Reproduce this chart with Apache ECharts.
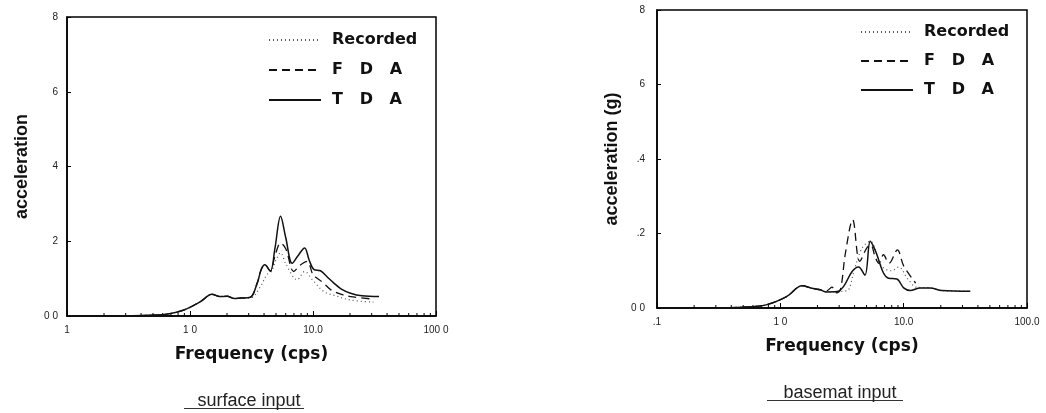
<!DOCTYPE html>
<html>
<head>
    <meta charset="utf-8">
    <title>acceleration spectra</title>
    <script src="https://cdn.jsdelivr.net/npm/echarts@6.0.0/dist/echarts.min.js"></script>
    <style>
        body { margin: 0; padding: 0; background: #fff; overflow: hidden; }
        #chart { width: 1046px; height: 413px; }
    </style>
</head>
<body>
    <div id="chart"></div>

    <script>
        // surface input: [frequency (cps), acceleration]
        const surfaceRecorded = [
            [0.3, 0], [0.45, 0.002], [0.65, 0.005], [0.89, 0.016], [1.21, 0.038], [1.51, 0.058],
            [1.75, 0.052], [2.0, 0.053], [2.3, 0.047], [2.57, 0.048], [3.09, 0.048], [3.74, 0.079],
            [4.2, 0.11], [4.6, 0.12], [5.0, 0.15], [5.45, 0.169], [6.0, 0.14], [7.45, 0.097],
            [8.55, 0.119], [10.0, 0.095], [12.3, 0.065], [15.0, 0.055], [20.0, 0.043], [31.0, 0.037]
        ];
        const surfaceFDA = [
            [0.3, 0], [0.45, 0.002], [0.65, 0.005], [0.89, 0.016], [1.21, 0.038], [1.51, 0.058],
            [1.75, 0.052], [2.0, 0.053], [2.3, 0.047], [2.57, 0.048], [3.09, 0.05], [3.52, 0.088],
            [3.8, 0.125], [4.06, 0.137], [4.5, 0.12], [4.9, 0.16], [5.45, 0.195], [6.0, 0.18],
            [6.98, 0.119], [7.8, 0.135], [8.97, 0.146], [10.0, 0.11], [10.8, 0.101], [12.0, 0.09],
            [14.0, 0.07], [17.0, 0.058], [20.2, 0.052], [31.2, 0.045]
        ];
        const surfaceTDA = [
            [0.3, 0], [0.45, 0.002], [0.65, 0.005], [0.89, 0.016], [1.21, 0.038], [1.51, 0.058],
            [1.75, 0.052], [2.0, 0.053], [2.3, 0.047], [2.57, 0.048], [3.09, 0.05], [3.52, 0.088],
            [3.8, 0.125], [4.06, 0.137], [4.5, 0.12], [4.9, 0.18], [5.45, 0.267], [6.0, 0.21],
            [6.78, 0.141], [7.5, 0.16], [8.55, 0.182], [9.3, 0.15], [10.2, 0.124], [11.5, 0.121],
            [13.0, 0.105], [14.8, 0.088], [17.0, 0.072], [20.2, 0.061], [25.0, 0.054], [34.4, 0.052]
        ];

        // basemat input
        const basematRecorded = [
            [0.3, 0], [0.54, 0.003], [0.78, 0.009], [1.13, 0.031], [1.5, 0.06], [1.8, 0.053],
            [2.11, 0.049], [2.37, 0.043], [2.88, 0.044], [3.26, 0.045], [3.58, 0.049], [3.94, 0.097],
            [4.6, 0.161], [5.35, 0.179], [6.6, 0.113], [8.0, 0.1], [9.1, 0.11], [10.9, 0.076],
            [12.7, 0.056], [16.4, 0.054], [20.3, 0.047], [34.7, 0.045]
        ];
        const basematFDA = [
            [0.3, 0], [0.54, 0.003], [0.78, 0.009], [1.13, 0.031], [1.5, 0.06], [1.8, 0.053],
            [2.11, 0.049], [2.37, 0.046], [2.62, 0.056], [2.85, 0.041], [3.07, 0.049], [3.37, 0.147],
            [3.86, 0.237], [4.4, 0.125], [5.0, 0.16], [5.4, 0.17], [5.9, 0.135], [6.3, 0.12],
            [6.86, 0.143], [7.6, 0.12], [8.9, 0.156], [10.0, 0.113], [12.5, 0.067]
        ];
        const basematTDA = [
            [0.3, 0], [0.54, 0.003], [0.78, 0.009], [1.13, 0.031], [1.5, 0.06], [1.8, 0.053],
            [2.1, 0.049], [2.37, 0.043], [2.88, 0.044], [3.26, 0.058], [3.82, 0.098], [4.31, 0.11],
            [4.85, 0.088], [5.35, 0.179], [5.7, 0.165], [6.07, 0.143], [6.86, 0.094], [7.54, 0.08],
            [8.8, 0.078], [10.0, 0.054], [11.3, 0.047], [13.6, 0.054], [16.4, 0.054], [20.3, 0.047],
            [34.7, 0.045]
        ];

        // axis tick labels, as printed
        const surfaceXLabels = ['1', '1 0', '10.0', '100 0'];
        const basematXLabels = ['.1', '1 0', '10.0', '100.0'];
        const surfaceYLabels = ['0 0', '2', '4', '6', '8'];
        const basematYLabels = ['0 0', '.2', '.4', '6', '8'];
        const minorFreqs = [0.2, 0.3, 0.4, 0.5, 0.6, 0.7, 0.8, 0.9, 2, 3, 4, 5, 6, 7, 8, 9,
            20, 30, 40, 50, 60, 70, 80, 90];

        const seriesNames = ['Recorded', 'F   D   A', 'T   D   A'];

        const chart = echarts.init(document.getElementById('chart'));

        const bold = 'DejaVu Sans';

        function xAxisFor(gridIndex, labels) {
            return {
                type: 'log', gridIndex: gridIndex, logBase: 10, min: 0.1, max: 100,
                name: 'Frequency (cps)', nameLocation: 'middle', nameGap: 30,
                nameTextStyle: { fontFamily: bold, fontWeight: 'bold', fontSize: 17, color: '#111' },
                axisLine: { lineStyle: { color: '#000', width: 1.5 } },
                axisTick: { inside: true, length: 5, lineStyle: { color: '#000' } },
                axisLabel: {
                    margin: 9, fontSize: 10, color: '#222', fontFamily: 'Liberation Sans',
                    formatter: (v, i) => labels[i]
                },
                splitLine: { show: false }
            };
        }

        function yAxisFor(gridIndex, labels, name, margin) {
            return {
                type: 'value', gridIndex: gridIndex, min: 0, max: 0.8, interval: 0.2,
                name: name, nameLocation: 'middle', nameGap: 36, nameRotate: 90,
                nameTextStyle: { fontFamily: 'Liberation Sans', fontWeight: 'bold', fontSize: 18, color: '#111' },
                axisLine: { lineStyle: { color: '#000', width: 1.5 } },
                axisTick: { inside: true, length: 4, lineStyle: { color: '#000' } },
                axisLabel: {
                    margin: margin, fontSize: 10, color: '#222', fontFamily: 'Liberation Sans',
                    formatter: (v, i) => labels[i]
                },
                splitLine: { show: false }
            };
        }

        function lineSeries(idx, name, data, style) {
            return {
                type: 'line', name: name, xAxisIndex: idx, yAxisIndex: idx,
                data: data, symbol: 'none', smooth: 0.35,
                lineStyle: style, itemStyle: { color: style.color }
            };
        }

        const styles = [
            { color: '#555', width: 1.2, type: [1, 3] },
            { color: '#111', width: 1.3, type: [8, 5] },
            { color: '#111', width: 1.5, type: 'solid' }
        ];

        function minorTickSeries(idx) {
            return {
                type: 'custom', xAxisIndex: idx, yAxisIndex: idx, silent: true,
                data: minorFreqs.map(f => [f, 0]),
                renderItem: function (params, api) {
                    const p = api.coord([api.value(0), api.value(1)]);
                    return {
                        type: 'line',
                        shape: { x1: p[0], y1: p[1], x2: p[0], y2: p[1] - 3 },
                        style: { stroke: '#000', lineWidth: 1 }
                    };
                }
            };
        }

        function legendFor(left, top, gap) {
            return {
                orient: 'vertical', left: left, top: top, itemGap: gap,
                itemWidth: 52, itemHeight: 14, data: seriesNames,
                selectedMode: false,
                itemStyle: { opacity: 0 },
                textStyle: {
                    fontFamily: bold, fontWeight: 'bold', fontSize: 16, color: '#111',
                    padding: [0, 0, 0, 6]
                }
            };
        }

        const captionStyle = { fontFamily: 'Liberation Sans', fontWeight: 'normal', fontSize: 18, color: '#222' };

        const option = {
            animation: false,
            backgroundColor: '#fff',
            title: [
                { text: 'surface input', left: 244, top: 387, textAlign: 'center', textStyle: captionStyle },
                { text: 'basemat input', left: 835, top: 379, textAlign: 'center', textStyle: captionStyle }
            ],
            legend: [legendFor(263, 27, 14), legendFor(855, 19, 13)],
            grid: [
                { left: 67, right: 610, top: 17, bottom: 97, show: true, borderColor: '#000', borderWidth: 1.5 },
                { left: 657, right: 19, top: 10, bottom: 105, show: true, borderColor: '#000', borderWidth: 1.5 }
            ],
            xAxis: [xAxisFor(0, surfaceXLabels), xAxisFor(1, basematXLabels)],
            yAxis: [
                yAxisFor(0, surfaceYLabels, 'acceleration', 9),
                yAxisFor(1, basematYLabels, 'acceleration (g)', 12)
            ],
            graphic: [
                { type: 'line', shape: { x1: 184, y1: 408.5, x2: 304, y2: 408.5 }, style: { stroke: '#333', lineWidth: 1 } },
                { type: 'line', shape: { x1: 767, y1: 400.5, x2: 903, y2: 400.5 }, style: { stroke: '#333', lineWidth: 1 } }
            ],
            series: [
                lineSeries(0, seriesNames[0], surfaceRecorded, styles[0]),
                lineSeries(0, seriesNames[1], surfaceFDA, styles[1]),
                lineSeries(0, seriesNames[2], surfaceTDA, styles[2]),
                lineSeries(1, seriesNames[0], basematRecorded, styles[0]),
                lineSeries(1, seriesNames[1], basematFDA, styles[1]),
                lineSeries(1, seriesNames[2], basematTDA, styles[2]),
                minorTickSeries(0),
                minorTickSeries(1)
            ]
        };

        chart.setOption(option);
    </script>
</body>
</html>
